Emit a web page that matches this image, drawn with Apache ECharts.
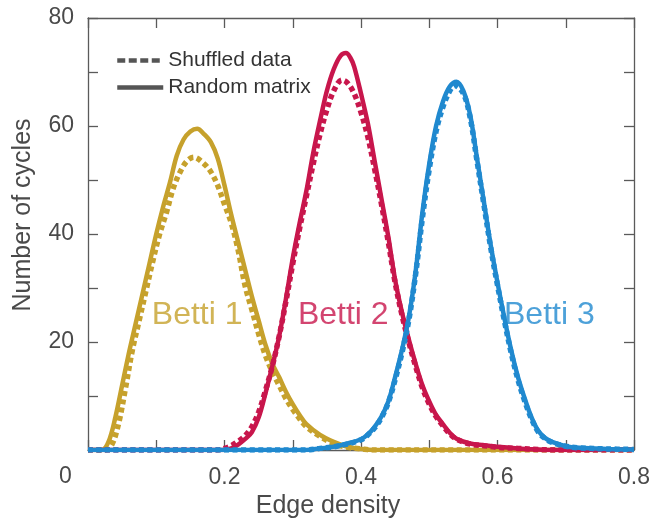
<!DOCTYPE html>
<html>
<head>
<meta charset="utf-8">
<script src="https://cdn.jsdelivr.net/npm/echarts@6/dist/echarts.min.js"></script>
<style>
  html, body { margin: 0; padding: 0; background: #fff; }
  #container { width: 653px; height: 518px; }
</style>
</head>
<body>
<div id="container"></div>
<script>
var dom = document.getElementById("container");
var myChart = echarts.init(dom);

// [edge density, number of cycles]
var betti1Random = [[0,0],[0.02,0],[0.03,1.5],[0.04,6],[0.05,12],[0.06,18],[0.07,23.5],[0.08,29],[0.09,34.5],[0.10,40],[0.11,45],[0.12,49.5],[0.13,54.5],[0.14,57.5],[0.15,59],[0.16,59.5],[0.17,58.5],[0.18,57],[0.19,54],[0.20,49],[0.21,43.5],[0.22,38.5],[0.23,33.5],[0.24,28.5],[0.25,24],[0.26,19.5],[0.27,16],[0.28,13.5],[0.29,10.8],[0.30,8.5],[0.31,6.5],[0.32,4.8],[0.34,2.8],[0.36,1.5],[0.38,0.6],[0.40,0.2],[0.42,0],[0.8,0]];
var betti1Shuffled = [[0,0],[0.025,0],[0.035,1],[0.045,5],[0.055,11.5],[0.065,18.5],[0.075,24],[0.085,29.5],[0.095,35],[0.105,40],[0.115,44],[0.125,48.5],[0.135,51.5],[0.145,53.5],[0.155,54.2],[0.17,53],[0.18,51.5],[0.19,49],[0.20,45.5],[0.21,42],[0.22,37],[0.23,30.5],[0.24,26],[0.25,21.5],[0.26,17.5],[0.27,14.5],[0.28,12],[0.29,9.5],[0.30,7.5],[0.31,5.8],[0.32,4.3],[0.34,2.5],[0.36,1.2],[0.38,0.5],[0.40,0.2],[0.42,0],[0.8,0]];
var betti2Random = [[0,0],[0.2,0],[0.21,0.3],[0.22,1],[0.23,2],[0.24,3.3],[0.25,6],[0.26,10.5],[0.27,15.5],[0.28,21],[0.29,28],[0.30,35.5],[0.31,42],[0.32,48],[0.33,55],[0.34,61],[0.35,66.5],[0.36,70.5],[0.37,73],[0.378,73.5],[0.385,72.5],[0.39,71],[0.40,66],[0.41,60.5],[0.42,53.5],[0.43,46.5],[0.44,39.5],[0.45,31.5],[0.46,25.5],[0.47,20.5],[0.48,16],[0.49,12],[0.50,9],[0.51,6.5],[0.52,4.8],[0.53,3.2],[0.54,2.1],[0.56,1.2],[0.58,0.9],[0.60,0.6],[0.63,0.3],[0.66,0.1],[0.68,0],[0.8,0]];
var betti2Shuffled = [[0,0],[0.19,0],[0.20,0.3],[0.21,0.8],[0.22,1.6],[0.23,2.6],[0.24,4.3],[0.25,7],[0.26,11],[0.27,15.5],[0.28,21],[0.29,27.5],[0.30,34.5],[0.31,41],[0.32,47],[0.33,53],[0.34,58.5],[0.35,63],[0.36,66.5],[0.372,68.5],[0.38,68],[0.39,66],[0.40,62.5],[0.41,58],[0.42,52],[0.43,45.5],[0.44,38.5],[0.45,31],[0.46,25],[0.47,20],[0.48,15.5],[0.49,11.5],[0.50,8.5],[0.51,6.2],[0.52,4.5],[0.53,3],[0.54,2],[0.56,1.1],[0.58,0.8],[0.60,0.5],[0.63,0.3],[0.66,0.1],[0.68,0],[0.8,0]];
var betti3Random = [[0,0],[0.32,0],[0.34,0.3],[0.36,0.6],[0.38,1.2],[0.40,2],[0.41,2.9],[0.42,4.3],[0.43,6.2],[0.44,9],[0.45,13.5],[0.46,18.5],[0.47,24.5],[0.48,33],[0.49,44],[0.50,53],[0.51,60],[0.52,64.5],[0.53,67.3],[0.54,68.2],[0.55,66.5],[0.56,62],[0.57,54],[0.58,46],[0.59,38],[0.60,31],[0.61,24.5],[0.62,18.5],[0.63,13.5],[0.64,9.5],[0.65,6],[0.66,3.5],[0.67,2.2],[0.68,1.5],[0.70,0.7],[0.72,0.4],[0.76,0.2],[0.8,0.1]];
var betti3Shuffled = [[0,0],[0.32,0],[0.34,0.3],[0.36,0.6],[0.38,1.1],[0.40,1.9],[0.41,2.8],[0.42,4.1],[0.43,6],[0.44,8.8],[0.45,13],[0.46,18],[0.47,24],[0.48,32.5],[0.49,43],[0.50,52],[0.51,59],[0.52,63.5],[0.53,66.5],[0.537,67.5],[0.55,66],[0.56,61.5],[0.57,53.5],[0.58,45.5],[0.59,37.5],[0.60,30.5],[0.61,24],[0.62,18],[0.63,13],[0.64,9],[0.65,5.7],[0.66,3.3],[0.67,2.1],[0.68,1.4],[0.70,0.7],[0.72,0.4],[0.76,0.2],[0.8,0.1]];

var groupNames = ['Betti 1', 'Betti 2', 'Betti 3'];
var groupColors = ['#C6A12C', '#C8164C', '#2089CF'];
// label anchor in data units
var labelPos = [[0.160, 25], [0.374, 25], [0.676, 25]];

var xTickLabels = ['0.2', '0.4', '0.6', '0.8'];
var yTickLabels = ['20', '40', '60', '80'];

var font = 'Liberation Sans, Arial, Helvetica, sans-serif';
var axisColor = '#5a5a5a';
var textColor = '#4a4a4a';

var curves = [
  [betti1Random, betti1Shuffled],
  [betti2Random, betti2Shuffled],
  [betti3Random, betti3Shuffled]
];

var series = [];
curves.forEach(function (pair, i) {
  series.push({
    name: groupNames[i] + ' random',
    type: 'line',
    data: pair[0],
    smooth: 0.35,
    symbol: 'none',
    lineStyle: { color: groupColors[i], width: 4.5 },
    z: 3
  });
  series.push({
    name: groupNames[i] + ' shuffled',
    type: 'line',
    data: pair[1],
    smooth: 0.35,
    symbol: 'none',
    lineStyle: { color: groupColors[i], width: 5.5, type: [5, 3.5] },
    z: 3
  });
});

// legend-only series
series.push({
  name: 'Shuffled data', type: 'line', data: [], symbol: 'none', symbolSize: 0,
  itemStyle: { color: '#555' },
  lineStyle: { color: '#555', width: 4.5, type: [8, 3.5] }
});
series.push({
  name: 'Random matrix', type: 'line', data: [], symbol: 'none', symbolSize: 0,
  itemStyle: { color: '#555' },
  lineStyle: { color: '#555', width: 4.5 }
});

// curve labels
series.push({
  type: 'scatter',
  symbolSize: 0,
  silent: true,
  data: groupNames.map(function (n, i) {
    return {
      value: [labelPos[i][0], labelPos[i][1], n],
      label: { color: groupColors[i] }
    };
  }),
  label: {
    show: true,
    position: 'inside',
    formatter: function (p) { return p.value[2]; },
    fontSize: 32,
    fontFamily: font
  },
  z: 5
});

function frameAxis(extra) {
  var base = {
    axisLine: { show: true, onZero: false, lineStyle: { color: axisColor, width: 1.3 } },
    axisTick: { show: true, inside: true, length: 10, lineStyle: { color: axisColor, width: 1.3 } },
    splitLine: { show: false }
  };
  return Object.assign(base, extra);
}

var option = {
  animation: false,
  backgroundColor: '#fff',
  textStyle: { fontFamily: font },
  grid: { left: 88, top: 18, right: 19, bottom: 68, show: false, containLabel: false, outerBoundsMode: 'none' },
  legend: {
    data: ['Shuffled data', 'Random matrix'],
    orient: 'vertical',
    left: 110,
    top: 45,
    itemWidth: 46,
    itemHeight: 14,
    itemGap: 6,
    textStyle: { fontSize: 21, color: '#333', fontFamily: font },
    itemStyle: { opacity: 0 },
    lineStyle: { width: 4.5 }
  },
  xAxis: [frameAxis({
    type: 'value',
    min: 0,
    max: 0.8,
    interval: 0.1,
    name: 'Edge density',
    nameLocation: 'middle',
    nameGap: 41,
    nameTextStyle: { fontSize: 25, color: textColor, fontFamily: font, padding: [0, 66, 0, 0] },
    axisLabel: {
      fontSize: 23,
      color: textColor,
      margin: 16,
      formatter: function (v) {
        var s = v.toFixed(1);
        return xTickLabels.indexOf(s) >= 0 ? s : '';
      }
    }
  }), frameAxis({
    type: 'value',
    position: 'top',
    min: 0,
    max: 0.8,
    interval: 0.1,
    axisLabel: { show: false }
  })],
  yAxis: [frameAxis({
    type: 'value',
    min: 0,
    max: 80,
    interval: 10,
    name: 'Number of cycles',
    nameLocation: 'middle',
    nameGap: 52,
    nameTextStyle: { fontSize: 25, color: textColor, fontFamily: font, padding: [0, 0, 0, 38] },
    axisLabel: {
      fontSize: 23,
      color: textColor,
      margin: 14,
      formatter: function (v) {
        var s = String(v);
        return yTickLabels.indexOf(s) >= 0 ? s : '';
      }
    }
  }), frameAxis({
    type: 'value',
    position: 'right',
    min: 0,
    max: 80,
    interval: 10,
    axisLabel: { show: false }
  })],
  graphic: [{
    type: 'text',
    left: 59,
    top: 465,
    style: { text: '0', fontSize: 23, fill: textColor, fontFamily: font }
  }],
  series: series
};

if (option && typeof option === 'object') {
  myChart.setOption(option);
}
</script>
</body>
</html>
